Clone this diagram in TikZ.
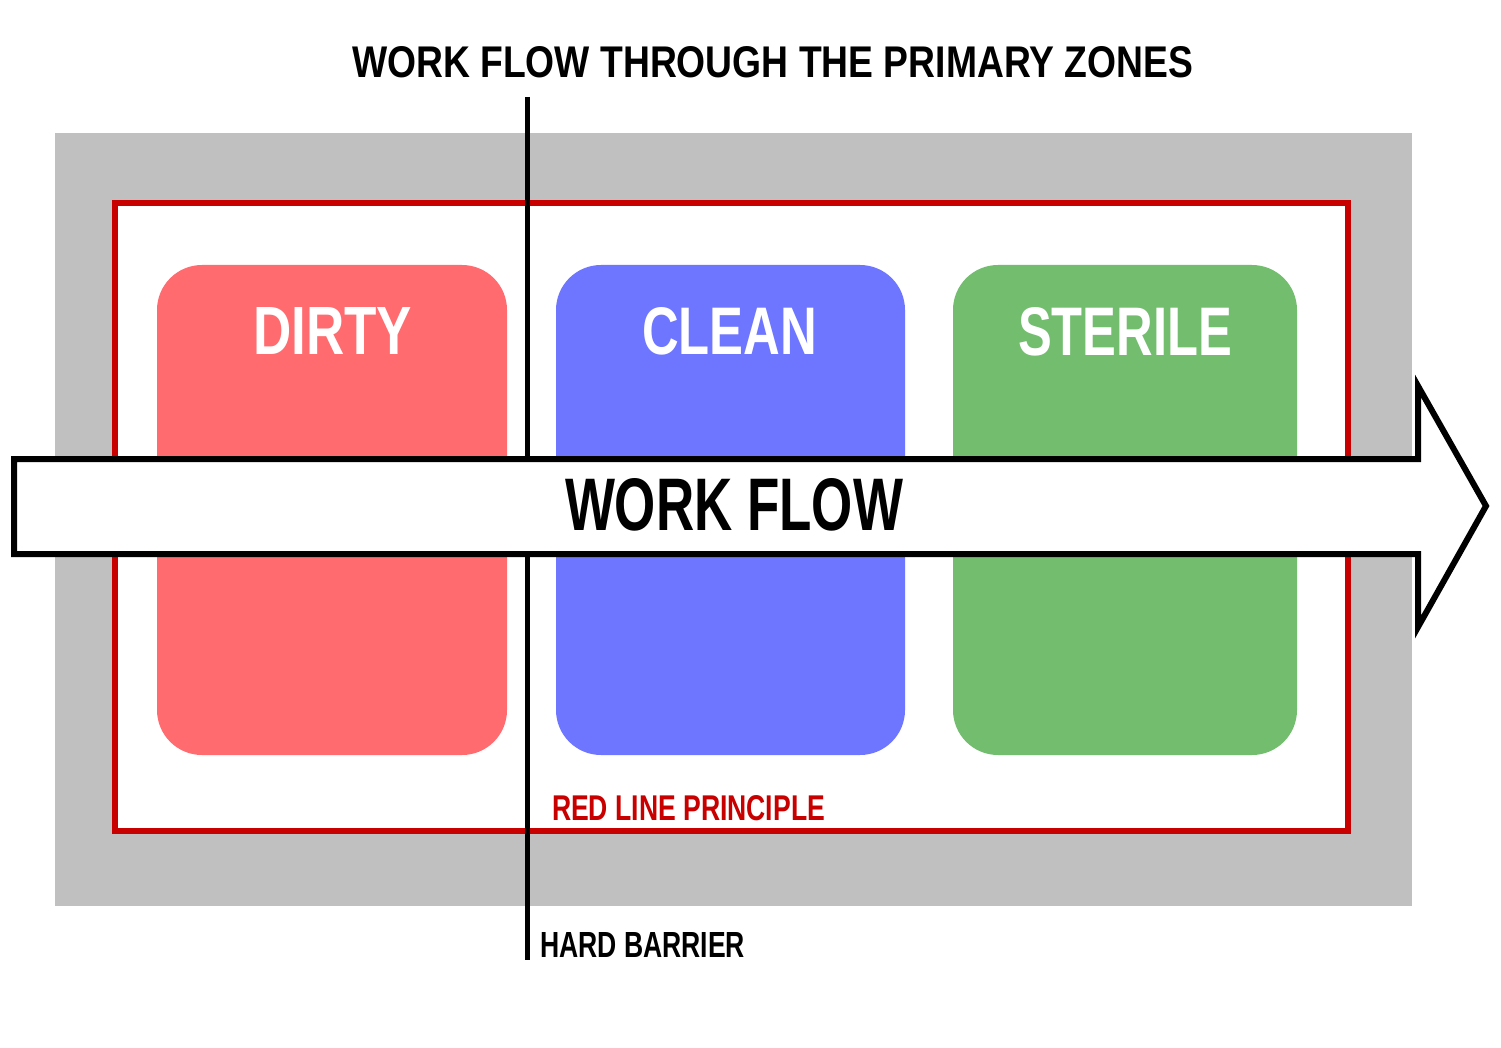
\documentclass[tikz,border=0pt]{standalone}
\usepackage{fontspec}
\usepackage{graphicx}
\newfontfamily\labfont{Liberation Sans}
\newcommand{\lab}{\labfont\bfseries}
\definecolor{grayband}{RGB}{192,192,192}
\definecolor{redline}{RGB}{200,0,0}
\definecolor{dirtyc}{RGB}{255,107,110}
\definecolor{cleanc}{RGB}{110,117,255}
\definecolor{sterilec}{RGB}{114,189,110}
\tikzset{
  zone/.style={draw=none, rounded corners=45pt, inner sep=0pt, minimum height=490pt},
  txt/.style={anchor=base west, inner sep=0pt, outer sep=0pt},
}
\begin{document}
\begin{tikzpicture}[x=1pt,y=-1pt]
\useasboundingbox[fill=white] (0,0) rectangle (1501,1048);
% outer gray band
\fill[grayband] (55,133) rectangle (1412,906);
% red line
\draw[redline, line width=6pt, fill=white] (115,203) rectangle (1348,831);
% zones
\node[zone, fill=dirtyc, minimum width=350pt] (dirty) at (332,510) {};
\node[zone, fill=cleanc, minimum width=349pt] (clean) at (730.5,510) {};
\node[zone, fill=sterilec, minimum width=344pt] (sterile) at (1125,510) {};
\node[txt, text=white] (dirtyl) at (253,355) {\resizebox{159pt}{47pt}{\lab DIRTY}};
\node[txt, text=white] (cleanl) at (642,355) {\resizebox{175pt}{47pt}{\lab CLEAN}};
\node[txt, text=white] (sterilel) at (1018,355) {\resizebox{214pt}{48pt}{\lab STERILE}};
% hard barrier
\coordinate (bartop) at (527.5,97);
\coordinate (barbot) at (527.5,960);
\draw[black, line width=5.5pt] (bartop) -- (barbot);
% work flow arrow
\draw[black, line width=6pt, fill=white, line join=miter]
  (14,459) -- (1418,459) -- (1418,386) -- (1486,506) -- (1418,627) -- (1418,554) -- (14,554) -- cycle;
\node[txt] (wf) at (565,530) {\resizebox{338pt}{52pt}{\lab WORK FLOW}};
% texts
\node[txt] (title) at (352,78) {\resizebox{841pt}{31pt}{\lab WORK FLOW THROUGH THE PRIMARY ZONES}};
\node[txt, text=redline] (rlp) at (552,820) {\resizebox{273pt}{25pt}{\lab RED LINE PRINCIPLE}};
\node[txt] (hb) at (540,957) {\resizebox{205pt}{25pt}{\lab HARD BARRIER}};
\end{tikzpicture}
\end{document}
